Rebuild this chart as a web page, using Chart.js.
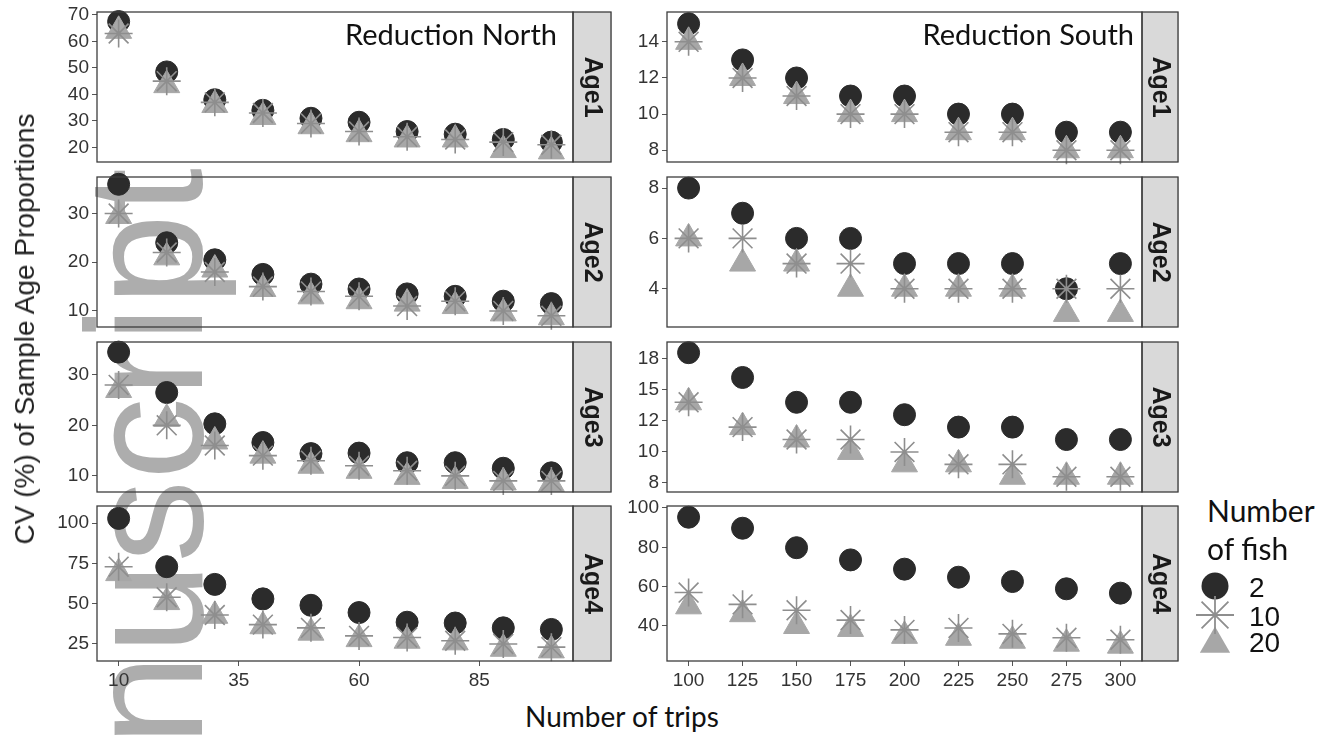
<!DOCTYPE html>
<html>
<head>
<meta charset="utf-8">
<script src="https://cdn.jsdelivr.net/npm/chart.js@4.4.1/dist/chart.umd.min.js"></script>
<style>
  html, body { margin: 0; padding: 0; background: #fff; }
  #page { position: relative; width: 1334px; height: 736px; overflow: hidden; background: #fff; }
  .panel { position: absolute; z-index: 1; }
  .txt { position: absolute; z-index: 2; white-space: nowrap; line-height: 1; color: #111; }
  .calib { font-family: Lato, "Open Sans", sans-serif; }
  .arial { font-family: "Liberation Sans", Arial, sans-serif; }
  #wm {
    position: absolute; z-index: 0; left: 63px; top: 746px;
    transform-origin: 0 0; transform: rotate(-90deg);
    font: 165px "Liberation Sans", Arial, sans-serif; line-height: 1;
    color: #adadad; white-space: nowrap;
  }
</style>
</head>
<body>
<div id="page">
  <div id="wm">nuscript</div>

  <div class="txt arial" id="ytitle" style="left:25px; top:329px; font-size:28px; color:#222; transform:translate(-50%,-50%) rotate(-90deg);">CV (%) of Sample Age Proportions</div>
  <div class="txt calib" style="left:622px; top:716px; font-size:28px; transform:translate(-50%,-50%);">Number of trips</div>

  <div class="txt calib" style="right:777px; top:19px; font-size:29px;">Reduction North</div>
  <div class="txt calib" style="right:200px; top:19px; font-size:29px;">Reduction South</div>

  <div class="txt calib" style="left:1207px; top:495px; font-size:30px;">Number</div>
  <div class="txt calib" style="left:1207px; top:533px; font-size:30px;">of fish</div>
  <div class="txt arial" style="left:1249px; top:574px; font-size:28px;">2</div>
  <div class="txt arial" style="left:1249px; top:603px; font-size:28px;">10</div>
  <div class="txt arial" style="left:1249px; top:629px; font-size:28px;">20</div>
  <canvas id="legendKey" class="panel" width="60" height="110" style="left:1185px; top:565px;"></canvas>
</div>

<script>
// x values (number of trips)
const tripsNorth = [10, 20, 30, 40, 50, 60, 70, 80, 90, 100];
const tripsSouth = [100, 125, 150, 175, 200, 225, 250, 275, 300];
const northXTicks = [10, 35, 60, 85];
const southXTicks = [100, 125, 150, 175, 200, 225, 250, 275, 300];

// Reduction North, CV by number of fish
const northAge1Fish2  = [67.5, 48.5, 38, 34, 31, 29.5, 26, 25, 23, 22];
const northAge1Fish10 = [63, 45, 37, 33, 29, 26, 24, 23, 22, 21];
const northAge1Fish20 = [64, 43.5, 36, 31.5, 28, 25, 23, 23, 19, 18.5];

const northAge2Fish2  = [36, 24, 20.5, 17.5, 15.5, 14.5, 13.5, 13, 12, 11.5];
const northAge2Fish10 = [30, 22, 18, 15, 14, 13, 11, 12, 10, 9];
const northAge2Fish20 = [29.5, 21, 18.5, 14.5, 13, 12, 11.5, 11, 9.5, 8.7];

const northAge3Fish2  = [34.5, 26.5, 20.3, 16.6, 14.4, 14.5, 12.6, 12.6, 11.5, 10.6];
const northAge3Fish10 = [28, 20, 16, 14, 13, 12, 11, 10, 9, 9];
const northAge3Fish20 = [27, 21.3, 16.8, 14, 12, 11, 9.8, 9, 8.7, 8.4];

const northAge4Fish2  = [103, 73, 62, 53, 49, 44.5, 38.5, 38, 35, 34];
const northAge4Fish10 = [73, 54, 43, 37, 35, 30, 29, 27, 25, 23];
const northAge4Fish20 = [69, 51, 42.5, 36, 32, 28, 27, 26, 22, 21];

// Reduction South
const southAge1Fish2  = [15, 13, 12, 11, 11, 10, 10, 9, 9];
const southAge1Fish10 = [14, 12, 11, 10, 10, 9, 9, 8, 8];
const southAge1Fish20 = [14, 12, 11, 10, 10, 9, 9, 8, 8];

const southAge2Fish2  = [8, 7, 6, 6, 5, 5, 5, 4, 5];
const southAge2Fish10 = [6, 6, 5, 5, 4, 4, 4, 4, 4];
const southAge2Fish20 = [6, 5, 5, 4, 4, 4, 4, 3, 3];

const southAge3Fish2  = [18, 16, 14, 14, 13, 12, 12, 11, 11];
const southAge3Fish10 = [14, 12, 11, 11, 10, 9, 9, 8, 8];
const southAge3Fish20 = [14, 12, 11, 10, 9, 9, 8, 8, 8];

const southAge4Fish2  = [95.3, 89.7, 79.8, 73.6, 68.9, 64.8, 62.6, 58.9, 56.7];
const southAge4Fish10 = [57, 51, 48, 43, 38, 39, 36, 34, 33];
const southAge4Fish20 = [50, 46, 40, 38.5, 35, 34, 32.5, 31, 30];

// y tick values and their printed labels
const northAge1Ticks = [20, 30, 40, 50, 60, 70];
const northAge2Ticks = [10, 20, 30];
const northAge3Ticks = [10, 20, 30];
const northAge4Ticks = [25, 50, 75, 100];
const southAge1Ticks = [8, 10, 12, 14];
const southAge2Ticks = [4, 6, 8];
const southAge3Ticks = [7.5, 10, 12.5, 15, 17.5];
const southAge3Labels = ["8", "10", "12", "15", "18"];
const southAge4Ticks = [40, 60, 80, 100];

// layout (pixels)
const cols = [
  { left: 97, right: 573, strip: 39, xMin: 5.5, xMax: 104.5, x: tripsNorth, xTicks: northXTicks },
  { left: 667, right: 1142, strip: 37, xMin: 90, xMax: 310, x: tripsSouth, xTicks: southXTicks }
];
const rows = [
  { top: 12, bottom: 166 },
  { top: 177, bottom: 331 },
  { top: 342, bottom: 496 },
  { top: 506, bottom: 661 }
];

const panels = [
  { col: 0, row: 0, strip: "Age1", f2: northAge1Fish2, f10: northAge1Fish10, f20: northAge1Fish20, yMin: 14.5, yMax: 71.1, ticks: northAge1Ticks },
  { col: 0, row: 1, strip: "Age2", f2: northAge2Fish2, f10: northAge2Fish10, f20: northAge2Fish20, yMin: 6.7, yMax: 37.5, ticks: northAge2Ticks },
  { col: 0, row: 2, strip: "Age3", f2: northAge3Fish2, f10: northAge3Fish10, f20: northAge3Fish20, yMin: 6.8, yMax: 36.5, ticks: northAge3Ticks },
  { col: 0, row: 3, strip: "Age4", f2: northAge4Fish2, f10: northAge4Fish10, f20: northAge4Fish20, yMin: 14.4, yMax: 110.7, ticks: northAge4Ticks },
  { col: 1, row: 0, strip: "Age1", f2: southAge1Fish2, f10: southAge1Fish10, f20: southAge1Fish20, yMin: 7.35, yMax: 15.65, ticks: southAge1Ticks },
  { col: 1, row: 1, strip: "Age2", f2: southAge2Fish2, f10: southAge2Fish10, f20: southAge2Fish20, yMin: 2.48, yMax: 8.44, ticks: southAge2Ticks },
  { col: 1, row: 2, strip: "Age3", f2: southAge3Fish2, f10: southAge3Fish10, f20: southAge3Fish20, yMin: 6.77, yMax: 18.86, ticks: southAge3Ticks, labels: southAge3Labels },
  { col: 1, row: 3, strip: "Age4", f2: southAge4Fish2, f10: southAge4Fish10, f20: southAge4Fish20, yMin: 22.2, yMax: 101, ticks: southAge4Ticks }
];

const DARK = "#2b2b2b";
const STAR = "#8e8e8e";
const TRI = "#a7a7a7";
const TICK_FONT = { family: '"Liberation Sans", Arial, sans-serif', size: 19 };

// panel frame + grey strip on the right
const framePlugin = {
  id: "frame",
  afterDatasetsDraw(chart, args, opts) {
    const { ctx, chartArea: a } = chart;
    ctx.save();
    ctx.fillStyle = "#d9d9d9";
    ctx.fillRect(a.right, a.top, opts.width, a.bottom - a.top);
    ctx.strokeStyle = "#3d3d3d";
    ctx.lineWidth = 1.3;
    ctx.strokeRect(a.left, a.top, a.right - a.left, a.bottom - a.top);
    ctx.strokeRect(a.right, a.top, opts.width - 1, a.bottom - a.top);
    ctx.translate(a.right + opts.width / 2, (a.top + a.bottom) / 2);
    ctx.rotate(Math.PI / 2);
    ctx.fillStyle = "#1a1a1a";
    ctx.font = 'bold 25px "Liberation Sans", Arial, sans-serif';
    ctx.textAlign = "center";
    ctx.textBaseline = "middle";
    ctx.fillText(opts.label, 0, 1);
    ctx.restore();
  }
};

const Y_W = 60, PAD_T = 16, PAD_B = 12, X_H = 36;

function toPoints(xs, ys) {
  return xs.map((x, i) => ({ x: x, y: ys[i] }));
}

function makePanel(p) {
  const c = cols[p.col];
  const r = rows[p.row];
  const isBottom = p.row === rows.length - 1;
  const w = Y_W + (c.right - c.left) + c.strip;
  const h = PAD_T + (r.bottom - r.top) + (isBottom ? X_H : PAD_B);

  const canvas = document.createElement("canvas");
  canvas.className = "panel";
  canvas.width = w;
  canvas.height = h;
  canvas.style.left = (c.left - Y_W) + "px";
  canvas.style.top = (r.top - PAD_T) + "px";
  canvas.style.width = w + "px";
  canvas.style.height = h + "px";
  document.getElementById("page").appendChild(canvas);

  const yLabels = p.labels || p.ticks.map(String);

  new Chart(canvas.getContext("2d"), {
    type: "scatter",
    data: {
      datasets: [
        {
          label: "2", data: toPoints(c.x, p.f2), order: 3, clip: false,
          pointStyle: "circle", pointRadius: 11,
          pointBackgroundColor: DARK, pointBorderColor: DARK, pointBorderWidth: 1
        },
        {
          label: "20", data: toPoints(c.x, p.f20), order: 2, clip: false,
          pointStyle: "triangle", pointRadius: 15,
          pointBackgroundColor: TRI, pointBorderColor: TRI, pointBorderWidth: 1
        },
        {
          label: "10", data: toPoints(c.x, p.f10), order: 1, clip: false,
          pointStyle: "star", pointRadius: 14,
          pointBackgroundColor: STAR, pointBorderColor: STAR, pointBorderWidth: 1.6
        }
      ]
    },
    options: {
      responsive: false,
      animation: false,
      events: [],
      devicePixelRatio: 1,
      layout: { padding: { top: PAD_T, right: c.strip, bottom: isBottom ? 0 : PAD_B, left: 0 } },
      plugins: {
        legend: { display: false },
        tooltip: { enabled: false },
        frame: { width: c.strip, label: p.strip }
      },
      scales: {
        x: {
          type: "linear",
          display: isBottom,
          min: c.xMin,
          max: c.xMax,
          afterBuildTicks: (s) => { s.ticks = c.xTicks.map(v => ({ value: v })); },
          afterFit: (s) => { s.height = isBottom ? X_H : 0; },
          grid: { drawOnChartArea: false, drawTicks: true, tickLength: 5, color: "#555" },
          border: { display: false },
          ticks: {
            autoSkip: false, maxRotation: 0, padding: 3,
            color: "#333", font: TICK_FONT,
            callback: (v) => String(v)
          }
        },
        y: {
          type: "linear",
          min: p.yMin,
          max: p.yMax,
          afterBuildTicks: (s) => { s.ticks = p.ticks.map(v => ({ value: v })); },
          afterFit: (s) => { s.width = Y_W; },
          grid: { drawOnChartArea: false, drawTicks: true, tickLength: 5, color: "#555" },
          border: { display: false },
          ticks: {
            autoSkip: false, padding: 3,
            color: "#333", font: TICK_FONT,
            callback: (v, i) => yLabels[i]
          }
        }
      }
    },
    plugins: [framePlugin]
  });
}

panels.forEach(makePanel);

// legend key symbols
(function drawKey() {
  const ctx = document.getElementById("legendKey").getContext("2d");
  const cx = 30;
  // circle for 2 fish
  ctx.fillStyle = DARK;
  ctx.beginPath();
  ctx.arc(cx, 21, 13.5, 0, Math.PI * 2);
  ctx.fill();
  // triangle for 20 fish
  const tr = 17.5, ty = 79;
  ctx.fillStyle = TRI;
  ctx.beginPath();
  ctx.moveTo(cx, ty - tr);
  ctx.lineTo(cx + tr * 0.866, ty + tr / 2);
  ctx.lineTo(cx - tr * 0.866, ty + tr / 2);
  ctx.closePath();
  ctx.fill();
  // asterisk for 10 fish
  const sr = 19, sy = 50, d = sr * Math.SQRT1_2;
  ctx.strokeStyle = STAR;
  ctx.lineWidth = 1.8;
  ctx.beginPath();
  ctx.moveTo(cx - sr, sy); ctx.lineTo(cx + sr, sy);
  ctx.moveTo(cx, sy - sr); ctx.lineTo(cx, sy + sr);
  ctx.moveTo(cx - d, sy - d); ctx.lineTo(cx + d, sy + d);
  ctx.moveTo(cx - d, sy + d); ctx.lineTo(cx + d, sy - d);
  ctx.stroke();
})();
</script>
</body>
</html>
